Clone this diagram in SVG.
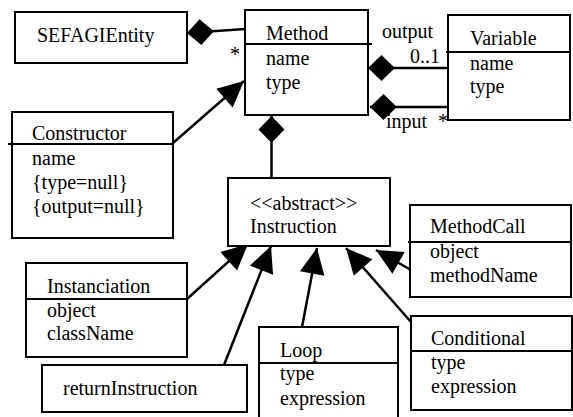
<svg xmlns="http://www.w3.org/2000/svg" width="573" height="417" viewBox="0 0 573 417">
  <style>
    .box { fill: #ffffff; stroke: #000000; stroke-width: 2; }
    .sep { stroke: #000000; stroke-width: 2; }
    .link { fill: none; stroke: #000000; stroke-width: 2.5; }
  </style>
  <defs>
    <!-- filled diamond for composition ends -->
    <marker id="diamond" markerUnits="userSpaceOnUse" markerWidth="28" markerHeight="28" viewBox="0 -13 26 26" refX="0" refY="0" orient="auto">
      <path d="M0,0 L12.5,-12 L25,0 L12.5,12 Z" fill="#000000"/>
    </marker>
    <!-- filled triangle for generalization ends -->
    <marker id="arrow" markerUnits="userSpaceOnUse" markerWidth="28" markerHeight="28" viewBox="-26 -13 27 26" refX="0" refY="0" orient="auto">
      <path d="M0,0 L-25,-12 L-25,12 Z" fill="#000000"/>
    </marker>
  </defs>

  <rect width="573" height="417" fill="#ffffff"/>

  <g id="connectors">
    <path class="link" d="M187,33 L245,29" marker-start="url(#diamond)"/>
    <path class="link" d="M368,68 L448,68" marker-start="url(#diamond)"/>
    <path class="link" d="M370,107 L453,107" marker-start="url(#diamond)"/>
    <path class="link" d="M271.5,116 L271.5,178" marker-start="url(#diamond)"/>
    <path class="link" d="M173,143 L244,81" marker-end="url(#arrow)"/>
    <path class="link" d="M187,299 L248,244" marker-end="url(#arrow)"/>
    <path class="link" d="M224,365 L271,246" marker-end="url(#arrow)"/>
    <path class="link" d="M302,327 L317,248" marker-end="url(#arrow)"/>
    <path class="link" d="M411,322 L346,248" marker-end="url(#arrow)"/>
    <path class="link" d="M411,270 L376,250" marker-end="url(#arrow)"/>
    <text font-family="Liberation Serif" font-size="20" x="382" y="38">output</text>
    <text font-family="Liberation Serif" font-size="20" x="410" y="63">0..1</text>
    <text font-family="Liberation Serif" font-size="20" x="386" y="128">input</text>
    <text font-family="Liberation Serif" font-size="20" x="438" y="128">*</text>
    <text font-family="Liberation Serif" font-size="20" x="230" y="61">*</text>
  </g>

  <g id="SEFAGIEntity">
    <rect class="box" x="15" y="12" width="172" height="51"/>
    <text font-family="Liberation Serif" font-size="20" x="37" y="42">SEFAGIEntity</text>
  </g>

  <g id="Method">
    <rect class="box" x="245" y="10" width="123" height="105"/>
    <line class="sep" x1="245" y1="44" x2="372" y2="44"/>
    <text font-family="Liberation Serif" font-size="20" x="266" y="40">Method</text>
    <text font-family="Liberation Serif" font-size="20" x="266" y="65">name</text>
    <text font-family="Liberation Serif" font-size="20" x="266" y="89">type</text>
  </g>

  <g id="Variable">
    <rect class="box" x="448" y="15" width="122" height="105"/>
    <line class="sep" x1="446" y1="52" x2="570" y2="52"/>
    <text font-family="Liberation Serif" font-size="20" x="470" y="45">Variable</text>
    <text font-family="Liberation Serif" font-size="20" x="470" y="70">name</text>
    <text font-family="Liberation Serif" font-size="20" x="470" y="93">type</text>
  </g>

  <g id="Constructor">
    <rect class="box" x="12" y="112" width="161" height="126"/>
    <line class="sep" x1="8" y1="144" x2="173" y2="144"/>
    <text font-family="Liberation Serif" font-size="20" x="32" y="140">Constructor</text>
    <text font-family="Liberation Serif" font-size="20" x="32" y="165">name</text>
    <text font-family="Liberation Serif" font-size="20" x="32" y="189">{type=null}</text>
    <text font-family="Liberation Serif" font-size="20" x="32" y="213">{output=null}</text>
  </g>

  <g id="Instruction">
    <rect class="box" x="228" y="178" width="162" height="68"/>
    <text font-family="Liberation Serif" font-size="20" x="250" y="210">&lt;&lt;abstract&gt;&gt;</text>
    <text font-family="Liberation Serif" font-size="20" x="250" y="233">Instruction</text>
  </g>

  <g id="MethodCall">
    <rect class="box" x="410" y="205" width="161" height="92"/>
    <line class="sep" x1="408" y1="242" x2="571" y2="242"/>
    <text font-family="Liberation Serif" font-size="20" x="430" y="233">MethodCall</text>
    <text font-family="Liberation Serif" font-size="20" x="430" y="258">object</text>
    <text font-family="Liberation Serif" font-size="20" x="430" y="282">methodName</text>
  </g>

  <g id="Instanciation">
    <rect class="box" x="26" y="263" width="161" height="94"/>
    <line class="sep" x1="26" y1="299" x2="187" y2="299"/>
    <text font-family="Liberation Serif" font-size="20" x="47" y="293">Instanciation</text>
    <text font-family="Liberation Serif" font-size="20" x="47" y="317">object</text>
    <text font-family="Liberation Serif" font-size="20" x="47" y="340">className</text>
  </g>

  <g id="returnInstruction">
    <rect class="box" x="42" y="365" width="205" height="47"/>
    <text font-family="Liberation Serif" font-size="20" x="63" y="395">returnInstruction</text>
  </g>

  <g id="Loop">
    <rect class="box" x="259" y="327" width="139" height="95"/>
    <line class="sep" x1="259" y1="363" x2="398" y2="363"/>
    <text font-family="Liberation Serif" font-size="20" x="280" y="357">Loop</text>
    <text font-family="Liberation Serif" font-size="20" x="280" y="380">type</text>
    <text font-family="Liberation Serif" font-size="20" x="280" y="405">expression</text>
  </g>

  <g id="Conditional">
    <rect class="box" x="411" y="316" width="161" height="94"/>
    <line class="sep" x1="411" y1="351" x2="572" y2="351"/>
    <text font-family="Liberation Serif" font-size="20" x="431" y="345">Conditional</text>
    <text font-family="Liberation Serif" font-size="20" x="431" y="369">type</text>
    <text font-family="Liberation Serif" font-size="20" x="431" y="393">expression</text>
  </g>
</svg>
